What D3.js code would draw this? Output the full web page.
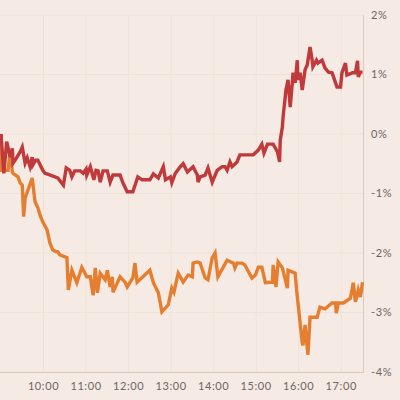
<!DOCTYPE html>
<html>
<head>
<meta charset="utf-8">
<script src="https://cdn.jsdelivr.net/npm/d3@7"></script>
<style>
  body { margin: 0; background: #f6eae4; }
  svg { display: block; }
  .tick-label { font-family: Lato, "Open Sans", sans-serif; font-size: 11px; fill: #6e6562; letter-spacing: 0.6px; }
</style>
</head>
<body>
<div id="chart"></div>
<script>
// tick labels
const hourTicks = ["10:00", "11:00", "12:00", "13:00", "14:00", "15:00", "16:00", "17:00"];
const pctTicks = [2, 1, 0, -1, -2, -3, -4];

// dark red series
const redTimes = ["9:00","9:04","9:08","9:13","9:16","9:17","9:20","9:27","9:30","9:34","9:37","9:41","9:44","9:45","9:49","9:52","9:59",
  "10:02","10:05","10:20","10:28","10:32","10:37","10:40","10:44","10:52","10:56",
  "11:00","11:01","11:06","11:11","11:14","11:17","11:20","11:24","11:30","11:34","11:38","11:48","11:52","11:58",
  "12:06","12:13","12:19","12:30","12:35","12:42","12:49","12:52","12:59",
  "13:01","13:06","13:13","13:17","13:23","13:31","13:37","13:38","13:41","13:48","13:52","13:58",
  "14:05","14:12","14:16","14:19","14:23","14:26","14:33","14:37","14:49","14:56",
  "15:03","15:08","15:11","15:16","15:24","15:30","15:33","15:34","15:37","15:38","15:42","15:45","15:48","15:51","15:52","15:55","15:58","15:59",
  "16:02","16:05","16:09","16:12","16:16","16:19","16:20","16:25","16:27","16:33","16:37","16:42","16:47","16:52","16:54","16:59",
  "17:01","17:06","17:08","17:16","17:20","17:23","17:24","17:27","17:30"];
const redValues = [0.00,-0.66,-0.13,-0.39,-0.24,-0.49,-0.44,-0.30,-0.22,-0.49,-0.40,-0.55,-0.39,-0.52,-0.44,-0.44,-0.61,
  -0.66,-0.67,-0.74,-0.86,-0.57,-0.61,-0.72,-0.62,-0.62,-0.66,
  -0.59,-0.69,-0.55,-0.77,-0.61,-0.62,-0.81,-0.62,-0.62,-0.81,-0.69,-0.69,-0.82,-0.97,
  -0.97,-0.72,-0.77,-0.77,-0.67,-0.74,-0.55,-0.77,-0.72,
  -0.82,-0.66,-0.55,-0.50,-0.64,-0.55,-0.69,-0.81,-0.72,-0.69,-0.57,-0.81,
  -0.61,-0.55,-0.55,-0.61,-0.47,-0.55,-0.47,-0.35,-0.35,-0.35,
  -0.27,-0.17,-0.32,-0.17,-0.17,-0.30,-0.47,-0.10,0.12,0.29,0.74,0.91,0.45,0.86,1.03,0.86,1.24,0.91,
  1.03,0.74,1.08,1.16,1.46,1.24,1.13,1.24,1.19,1.24,1.11,1.04,1.03,0.86,0.79,0.79,
  1.03,1.19,0.99,1.03,1.03,1.23,0.96,1.04,1.04];

// orange series
const orangeTimes = ["9:00","9:01","9:10","9:13","9:16","9:17","9:24","9:27","9:30","9:32","9:34","9:44","9:48","9:52","9:55","9:59",
  "10:05","10:09","10:13","10:18","10:20","10:23","10:33","10:35","10:40","10:47","10:54",
  "11:01","11:06","11:10","11:13","11:16","11:20","11:27","11:30","11:34","11:37","11:38","11:48","11:55","11:58",
  "12:06","12:09","12:12","12:30","12:35","12:42","12:47","12:56",
  "13:01","13:04","13:10","13:17","13:24","13:30","13:31","13:37","13:41","13:48","13:52","13:58",
  "14:02","14:06","14:19","14:28","14:30","14:33","14:40","14:44","14:54","14:59",
  "15:03","15:08","15:13","15:23","15:24","15:28","15:31","15:37","15:44","15:45","15:55","15:57","15:59",
  "16:05","16:06","16:09","16:12","16:13","16:16","16:26","16:30","16:37","16:47","16:52","16:53","16:56",
  "17:03","17:13","17:17","17:20","17:24","17:27","17:30"];
const orangeValues = [0.00,-0.61,-0.61,-0.27,-0.64,-0.66,-0.72,-0.82,-0.86,-1.39,-1.08,-0.74,-1.14,-1.24,-1.36,-1.48,
  -1.61,-1.83,-1.95,-1.98,-1.98,-2.03,-2.08,-2.62,-2.29,-2.50,-2.24,
  -2.40,-2.40,-2.71,-2.25,-2.67,-2.34,-2.45,-2.29,-2.57,-2.40,-2.66,-2.40,-2.49,-2.57,
  -2.42,-2.17,-2.49,-2.29,-2.50,-2.67,-2.99,-2.87,
  -2.59,-2.66,-2.34,-2.49,-2.37,-2.40,-2.17,-2.15,-2.17,-2.42,-2.45,-2.08,
  -2.00,-2.40,-2.12,-2.17,-2.25,-2.17,-2.17,-2.20,-2.42,-2.37,
  -2.24,-2.24,-2.50,-2.49,-2.20,-2.57,-2.15,-2.25,-2.59,-2.29,-2.34,-2.62,-2.84,
  -3.51,-3.55,-3.21,-3.58,-3.71,-3.08,-3.08,-2.91,-2.94,-2.84,-2.84,-3.01,-2.84,
  -2.84,-2.76,-2.50,-2.82,-2.62,-2.74,-2.49];

const width = 400, height = 400;
const parseTime = d3.timeParse("%H:%M");

const svg = d3.select("#chart").append("svg")
    .attr("width", width)
    .attr("height", height);

svg.append("rect").attr("width", width).attr("height", height).attr("fill", "#f6eae4");

const x = d3.scaleTime()
    .domain([parseTime("9:00"), parseTime("17:30")])
    .range([1, 362.5]);

const y = d3.scaleLinear()
    .domain([-4, 2])
    .range([372, 15]);

//grid
svg.append("g").selectAll("line.h")
    .data(pctTicks)
    .enter().append("line")
    .attr("x1", 0).attr("x2", 363)
    .attr("y1", d => y(d)).attr("y2", d => y(d))
    .attr("stroke", "#efe2d7")
    .attr("stroke-width", 1);

svg.append("g").selectAll("line.v")
    .data(hourTicks)
    .enter().append("line")
    .attr("x1", d => x(parseTime(d))).attr("x2", d => x(parseTime(d)))
    .attr("y1", y(2)).attr("y2", y(-4))
    .attr("stroke", "#efe2d7")
    .attr("stroke-width", 1);

// bottom + right axis lines
svg.append("line")
    .attr("x1", 0).attr("x2", 363.5)
    .attr("y1", y(-4) + 0.5).attr("y2", y(-4) + 0.5)
    .attr("stroke", "#d9c8bd");
svg.append("line")
    .attr("x1", 363.5).attr("x2", 363.5)
    .attr("y1", y(2)).attr("y2", y(-4) + 1)
    .attr("stroke", "#d9c8bd");

// labels
svg.append("g").selectAll("text")
    .data(pctTicks)
    .enter().append("text")
    .attr("class", "tick-label")
    .attr("x", 371)
    .attr("y", d => y(d))
    .attr("dy", "0.35em")
    .text(d => d + "%");

svg.append("g").selectAll("text")
    .data(hourTicks)
    .enter().append("text")
    .attr("class", "tick-label")
    .attr("x", d => x(parseTime(d)))
    .attr("y", 390)
    .attr("text-anchor", "middle")
    .text(d => d);

const line = d3.line()
    .x(d => x(d.t))
    .y(d => y(d.v));

function series(times, values) {
    return times.map((t, i) => ({t: parseTime(t), v: values[i]}));
}

svg.append("path")
    .datum(series(orangeTimes, orangeValues))
    .attr("fill", "none")
    .attr("stroke", "#e67e30")
    .attr("stroke-width", 3.4)
    .attr("d", line);

svg.append("path")
    .datum(series(redTimes, redValues))
    .attr("fill", "none")
    .attr("stroke", "#c0393b")
    .attr("stroke-width", 3.4)
    .attr("d", line);
</script>
</body>
</html>
